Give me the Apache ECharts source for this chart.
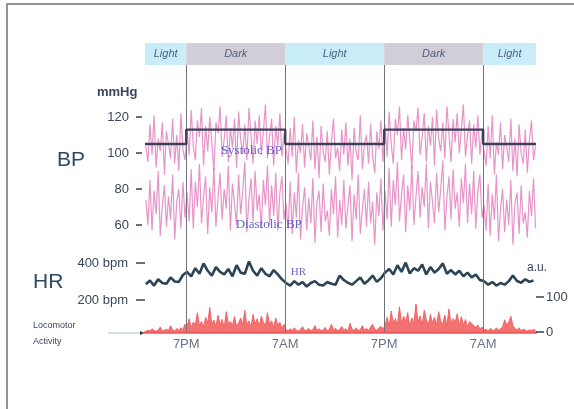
<!DOCTYPE html>
<html>
<head>
<meta charset="utf-8">
<script src="https://cdn.jsdelivr.net/npm/echarts@6/dist/echarts.min.js"></script>
<style>
  html, body { margin: 0; padding: 0; background: #ffffff; }
  #chart { width: 574px; height: 409px; }
</style>
</head>
<body>
<div id="chart"></div>
<script>
// Light/dark schedule (hours relative to the first 7PM lights-off)
const phaseNames = ['Light', 'Dark', 'Light', 'Dark', 'Light'];
const phaseBounds = [-5, 0, 12, 24, 36, 42.4];
const clockTicks = [0, 12, 24, 36];
const clockLabels = ['7PM', '7AM', '7PM', '7AM'];

// Blood pressure telemetry (mmHg), sampled every 15 min from t = -4.9 h
const bpStart = -4.9;
const bpStep = 0.25;
const systolicBP = [
  104,95,116,99,121,92,108,101,117,88,112,105,97,119,94,110,90,122,102,96,
  113,99,124,104,96,118,109,125,93,115,101,120,106,90,117,111,126,98,108,121,95,114,103,119,92,123,107,100,116,96,125,110,94,118,105,121,99,112,127,97,109,119,93,115,104,122,98,111,
  102,94,114,98,120,89,107,100,116,92,111,104,96,118,91,109,86,115,101,95,112,88,106,119,97,103,90,113,99,117,93,108,85,114,100,96,121,91,105,110,94,116,98,89,112,102,118,95,
  116,98,123,105,94,119,110,126,96,114,102,121,107,91,118,112,125,99,109,122,95,115,104,120,93,124,108,101,117,97,126,111,95,119,106,122,100,113,127,98,110,118,94,116,103,121,99,112,
  101,93,115,97,121,88,106,99,117,91,110,103,95,119,90,108,87,116,100,94,113,89,107,118,96,104
];
const diastolicBP = [
  74,60,85,57,79,66,90,54,71,82,59,76,63,88,52,73,80,58,84,64,
  78,62,91,58,84,70,94,61,76,87,55,81,67,92,59,75,89,63,80,69,93,57,83,72,60,88,66,79,95,56,74,86,62,90,68,77,58,85,71,93,60,82,65,89,57,78,87,63,
  72,58,84,55,78,64,89,52,70,81,57,75,61,86,50,73,79,56,83,62,68,54,80,66,87,53,74,60,85,58,71,82,51,77,63,88,55,69,80,59,84,61,73,49,78,65,86,57,
  79,63,92,59,85,71,95,62,77,88,56,82,68,93,60,76,90,64,81,70,94,58,84,73,61,89,67,80,96,57,75,87,63,91,69,78,59,86,72,94,61,83,66,90,58,79,88,64,
  71,57,83,54,77,63,88,51,69,80,56,74,60,85,49,72,78,55,82,61,67,53,79,65,86,58
];
// Mean systolic pressure per light/dark phase (mmHg)
const meanSystolic = [105, 113, 105, 113, 105];

// Heart rate (bpm), sampled every 30 min from t = -4.9 h
const hrStart = -4.9;
const hrStep = 0.5;
const heartRate = [
  285,305,278,312,292,288,322,300,298,335,
  352,328,372,342,398,358,332,378,352,338,368,328,388,348,342,408,358,332,372,342,328,362,338,312,
  292,278,302,283,297,273,292,302,283,278,297,288,283,332,308,293,283,302,322,288,307,332,298,317,
  348,368,338,388,352,402,343,372,358,392,338,378,348,368,398,342,362,338,358,328,348,322,338,308,
  302,283,297,278,292,283,302,332,303,293,312,298,305
];

// Locomotor activity (a.u.), sampled every 15 min from t = -4.9 h
const actStart = -4.9;
const actStep = 0.25;
const activity = [
  2,5,3,9,4,2,6,14,3,5,8,4,18,6,3,10,5,12,7,22,
  15,38,12,28,20,55,18,30,14,42,25,70,22,34,16,48,20,36,12,58,24,30,18,44,15,26,40,20,62,18,32,14,50,22,38,16,45,28,18,55,20,32,12,40,18,28,10,22,
  6,3,9,4,12,5,3,8,15,4,6,10,3,7,18,5,9,4,6,13,3,8,22,6,10,4,7,16,5,9,3,25,8,5,12,4,7,18,6,10,4,14,22,8,5,12,16,9,
  18,42,15,60,25,38,20,72,22,45,30,55,16,40,24,80,28,46,18,62,35,20,50,26,42,18,58,30,24,48,16,66,22,38,28,52,18,44,20,36,14,30,24,18,12,20,8,14,
  5,8,3,10,6,4,12,5,9,14,35,20,28,45,18,10,6,12,4,8,5,3,6,4,7,5
];

// ---- build [time, value] pairs for the value x-axes ----
const pairs = (start, step, vals) => vals.map((v, i) => [start + i * step, v]);
const meanLine = meanSystolic.map((v, i) => [phaseBounds[i], v])
  .concat([[phaseBounds[phaseBounds.length - 1], meanSystolic[meanSystolic.length - 1]]]);

const T_MIN = phaseBounds[0];
const T_MAX = phaseBounds[phaseBounds.length - 1];
const LEFT = 145, RIGHT = 38;
const FONT = 'Liberation Sans, Arial, sans-serif';
const TEXT = '#3a465a';
const PINK = 'rgba(216, 82, 166, 0.62)';
const TICK = { color: '#3a4250', width: 1.5 };

function timeAxis(gridIndex, extra) {
  return Object.assign({
    type: 'value', gridIndex: gridIndex, min: T_MIN, max: T_MAX,
    axisLine: { show: false }, axisTick: { show: false },
    axisLabel: { show: false }, splitLine: { show: false }
  }, extra || {});
}

const chart = echarts.init(document.getElementById('chart'), null, { renderer: 'canvas' });

const option = {
  animation: false,
  backgroundColor: '#ffffff',
  grid: [
    { left: LEFT, right: RIGHT, top: 43, height: 22 },        // 0: light/dark band
    { left: LEFT, right: RIGHT, top: 65, height: 267 },       // 1: phase dividers + clock labels
    { left: LEFT, right: RIGHT, top: 99, height: 162 },       // 2: blood pressure
    { left: LEFT, right: RIGHT, top: 255.6, height: 49.95 },  // 3: heart rate
    { left: LEFT, right: RIGHT, top: 293.5, height: 38.5 }    // 4: locomotor activity
  ],
  xAxis: [
    timeAxis(0),
    timeAxis(1, {
      axisLabel: {
        show: true, customValues: clockTicks, margin: 6,
        color: '#6b7486', fontFamily: FONT, fontSize: 13,
        formatter: v => clockLabels[clockTicks.indexOf(v)] || ''
      }
    }),
    timeAxis(2),
    timeAxis(3),
    timeAxis(4, { axisLine: { show: true, onZero: false, lineStyle: { color: '#ee5a5a', width: 2.5 } } })
  ],
  yAxis: [
    { type: 'value', gridIndex: 0, min: 0, max: 1, show: false },
    { type: 'value', gridIndex: 1, min: 0, max: 1, show: false },
    {
      type: 'value', gridIndex: 2, min: 40, max: 130, offset: 3,
      axisLine: { show: false, onZero: false }, splitLine: { show: false },
      axisTick: { show: true, customValues: [60, 80, 100, 120], length: 6, lineStyle: TICK },
      axisLabel: { customValues: [60, 80, 100, 120], margin: 13, color: TEXT, fontFamily: FONT, fontSize: 13 }
    },
    {
      type: 'value', gridIndex: 3, min: 170, max: 440, offset: 0,
      axisLine: { show: false, onZero: false }, splitLine: { show: false },
      axisTick: { show: true, customValues: [200, 400], length: 9, lineStyle: TICK },
      axisLabel: { customValues: [200, 400], margin: 17, color: TEXT, fontFamily: FONT, fontSize: 13,
        formatter: v => v + ' bpm' }
    },
    {
      type: 'value', gridIndex: 4, min: 0, max: 110, position: 'right', offset: 0,
      axisLine: { show: false, onZero: false }, splitLine: { show: false },
      axisTick: { show: true, customValues: [0, 100], length: 8, lineStyle: TICK },
      axisLabel: { customValues: [0, 100], margin: 10, color: TEXT, fontFamily: FONT, fontSize: 13 }
    }
  ],
  series: [
    {
      name: 'phases', type: 'line', xAxisIndex: 0, yAxisIndex: 0, data: [],
      markArea: {
        silent: true,
        label: { position: 'inside', fontStyle: 'italic', fontFamily: FONT, fontSize: 11, color: '#4f5e7c' },
        data: phaseNames.map((n, i) => [
          { name: n, xAxis: phaseBounds[i], itemStyle: { color: n === 'Light' ? '#c8ecf8' : '#d2ced8' } },
          { xAxis: phaseBounds[i + 1] }
        ])
      }
    },
    {
      name: 'dividers', type: 'line', xAxisIndex: 1, yAxisIndex: 1, data: [], z: 5,
      markLine: {
        silent: true, symbol: 'none', label: { show: false },
        lineStyle: { color: '#6f737a', width: 1, type: 'solid' },
        data: clockTicks.map(t => ({ xAxis: t }))
      }
    },
    {
      name: 'Systolic BP', type: 'line', xAxisIndex: 2, yAxisIndex: 2,
      data: pairs(bpStart, bpStep, systolicBP), showSymbol: false,
      lineStyle: { color: PINK, width: 1.2 },
      markPoint: {
        symbol: 'circle', symbolSize: 0, silent: true,
        label: { show: true, formatter: 'Systolic BP', fontFamily: 'Liberation Serif, serif', fontSize: 13, color: 'rgba(70,70,200,0.85)' },
        data: [{ coord: [7.9, 101.5] }]
      }
    },
    {
      name: 'Diastolic BP', type: 'line', xAxisIndex: 2, yAxisIndex: 2,
      data: pairs(bpStart, bpStep, diastolicBP), showSymbol: false,
      lineStyle: { color: PINK, width: 1.2 },
      markPoint: {
        symbol: 'circle', symbolSize: 0, silent: true,
        label: { show: true, formatter: 'Diastolic BP', fontFamily: 'Liberation Serif, serif', fontSize: 13, color: 'rgba(70,70,200,0.85)' },
        data: [{ coord: [10.0, 60.5] }]
      }
    },
    {
      name: 'Mean systolic', type: 'line', xAxisIndex: 2, yAxisIndex: 2, step: 'end',
      data: meanLine, showSymbol: false, z: 6,
      lineStyle: { color: '#3d3f5c', width: 2.4 }
    },
    {
      name: 'HR', type: 'line', xAxisIndex: 3, yAxisIndex: 3,
      data: pairs(hrStart, hrStep, heartRate), showSymbol: false,
      lineStyle: { color: '#2b4456', width: 2.6 },
      markPoint: {
        symbol: 'circle', symbolSize: 0, silent: true,
        label: { show: true, formatter: 'HR', fontFamily: 'Liberation Serif, serif', fontSize: 11, color: 'rgba(80,80,200,0.85)' },
        data: [{ coord: [13.6, 352] }]
      }
    },
    {
      name: 'Locomotor Activity', type: 'line', xAxisIndex: 4, yAxisIndex: 4,
      data: pairs(actStart, actStep, activity), showSymbol: false,
      lineStyle: { color: '#f06464', width: 1 },
      areaStyle: { color: '#f26a6a', opacity: 0.95 }
    }
  ],
  graphic: [
    { type: 'polyline', shape: { points: [[7, 430], [7, 4], [590, 4]] },
      style: { stroke: '#8d9399', lineWidth: 2, fill: null }, silent: true },
    { type: 'text', left: 97, top: 86, style: { text: 'mmHg', font: 'bold 13px ' + FONT, fill: TEXT } },
    { type: 'text', left: 57, top: 150, style: { text: 'BP', font: '21px ' + FONT, fill: '#2f4864' } },
    { type: 'text', left: 33, top: 272, style: { text: 'HR', font: '21px ' + FONT, fill: '#2f4864' } },
    { type: 'text', left: 33, top: 321, style: { text: 'Locomotor', font: '9px ' + FONT, fill: TEXT } },
    { type: 'text', left: 33, top: 337, style: { text: 'Activity', font: '9px ' + FONT, fill: TEXT } },
    { type: 'line', shape: { x1: 108, y1: 333, x2: 141, y2: 333 },
      style: { stroke: '#a9c4c4', lineWidth: 1 }, silent: true },
    { type: 'polygon', shape: { points: [[140, 331], [145, 333], [140, 335]] },
      style: { fill: '#3a4250' }, silent: true },
    { type: 'text', left: 527, top: 262, style: { text: 'a.u.', font: '12px ' + FONT, fill: TEXT } }
  ]
};

chart.setOption(option);
</script>
</body>
</html>
